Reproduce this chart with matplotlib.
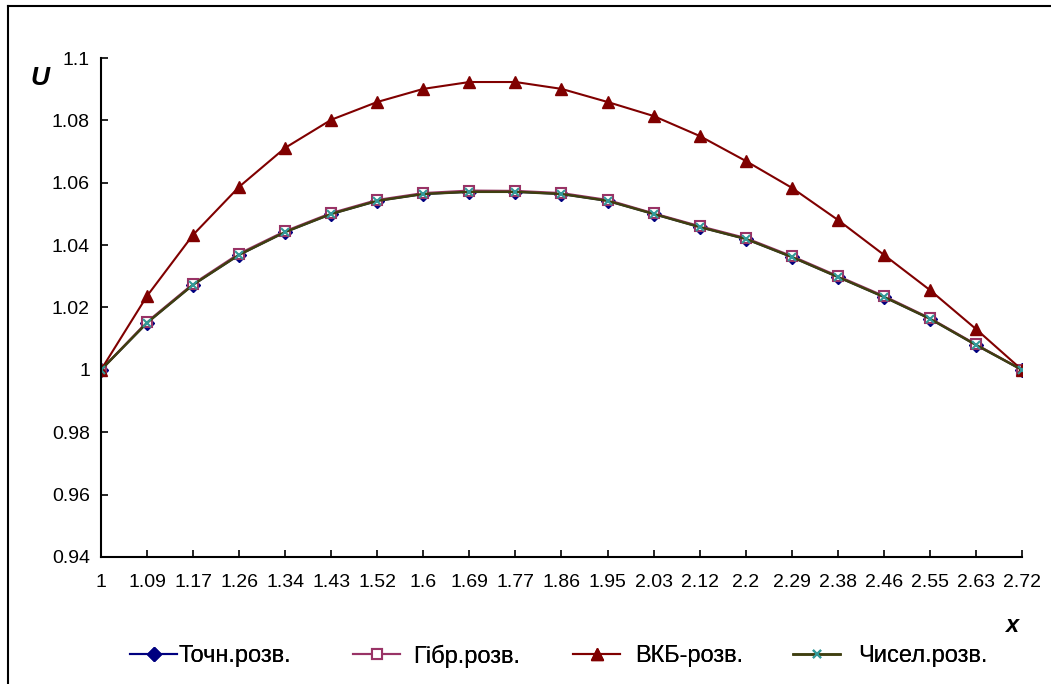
import matplotlib
matplotlib.use('Agg')
import matplotlib.pyplot as plt
from matplotlib.lines import Line2D

plt.rcParams['font.family'] = ['Liberation Sans', 'DejaVu Sans']

x_labels = ['1', '1.09', '1.17', '1.26', '1.34', '1.43', '1.52', '1.6', '1.69', '1.77',
            '1.86', '1.95', '2.03', '2.12', '2.2', '2.29', '2.38', '2.46', '2.55', '2.63', '2.72']

u_exact = [1.0, 1.0151, 1.0273, 1.0369, 1.0442, 1.0500, 1.0542, 1.0564, 1.0571, 1.0571,
           1.0564, 1.0542, 1.0500, 1.0458, 1.0420, 1.0362, 1.0298, 1.0234, 1.0164, 1.0080, 1.0]
u_hybrid = [1.0, 1.0154, 1.0276, 1.0373, 1.0445, 1.0503, 1.0545, 1.0567, 1.0575, 1.0574,
            1.0567, 1.0545, 1.0502, 1.0461, 1.0423, 1.0365, 1.0301, 1.0237, 1.0166, 1.0082, 1.0]
u_wkb = [1.0, 1.0237, 1.0433, 1.0587, 1.0712, 1.0802, 1.0859, 1.0901, 1.0923, 1.0923,
         1.0901, 1.0859, 1.0814, 1.0750, 1.0670, 1.0584, 1.0481, 1.0369, 1.0256, 1.0131, 1.0]
u_num = [1.0, 1.0151, 1.0273, 1.0369, 1.0442, 1.0500, 1.0542, 1.0564, 1.0571, 1.0571,
         1.0564, 1.0542, 1.0500, 1.0458, 1.0420, 1.0362, 1.0298, 1.0234, 1.0164, 1.0080, 1.0]

names = ['Точн.розв.', 'Гібр.розв.', 'ВКБ-розв.', 'Чисел.розв.']

pos = list(range(len(x_labels)))

fig = plt.figure(figsize=(10.51, 6.84), dpi=100)
ax = fig.add_axes([0.0961, 0.1857, 0.8763, 0.7295])

l1, = ax.plot(pos, u_exact, '-', color='#000080', lw=1.5, marker='D', ms=7,
              mfc='#000080', mec='#000080')
l2, = ax.plot(pos, u_hybrid, '-', color='#993366', lw=1.5, marker='s', ms=7,
              mfc='white', mec='#993366', mew=1.5)
l3, = ax.plot(pos, u_wkb, '-', color='#800000', lw=1.5, marker='^', ms=9,
              mfc='#800000', mec='#800000')
l4, = ax.plot(pos, u_num, '-', color='#3f3f10', lw=1.8, marker='x', ms=6,
              mec='#339999', mew=1.5)

ax.set_xlim(0, len(x_labels) - 1)
ax.set_ylim(0.94, 1.1)
ax.set_xticks(pos)
ax.set_xticklabels(x_labels)
ax.set_yticks([0.94, 0.96, 0.98, 1.0, 1.02, 1.04, 1.06, 1.08, 1.1])
ax.set_yticklabels(['0.94', '0.96', '0.98', '1', '1.02', '1.04', '1.06', '1.08', '1.1'])
ax.tick_params(direction='in', length=5, width=1.2, labelsize=14, pad=12)
ax.tick_params(axis='y', pad=8)
ax.spines['top'].set_visible(False)
ax.spines['right'].set_visible(False)
ax.spines['left'].set_linewidth(1.5)
ax.spines['bottom'].set_linewidth(1.5)

fig.text(40 / 1051, 1 - 78 / 684, 'U', fontsize=19, fontweight='bold', fontstyle='italic',
         ha='center', va='center')
fig.text(1012 / 1051, 1 - 626 / 684, 'x', fontsize=17, fontweight='bold', fontstyle='italic',
         ha='center', va='center')

# legend entries spaced like the original
lines = [l1, l2, l3, l4]
starts = [130, 353, 573, 793]
gaps = [0.05, 0.55, 0.65, 0.75]
for ln, name, x0, gap in zip(lines, names, starts, gaps):
    lg = fig.legend([ln], [name], loc='center left',
                    bbox_to_anchor=(x0 / 1051, 1 - 656 / 684), frameon=False,
                    fontsize=17, handlelength=2.0, handletextpad=gap,
                    borderpad=0, borderaxespad=0)
    fig.add_artist(lg)

# outer chart frame
fig.add_artist(Line2D([8 / 1051, 8 / 1051], [0, 1 - 6 / 684], color='black', lw=1.5))
fig.add_artist(Line2D([8 / 1051, 1], [1 - 6 / 684, 1 - 6 / 684], color='black', lw=1.5))

fig.savefig('out.png', dpi=100)
